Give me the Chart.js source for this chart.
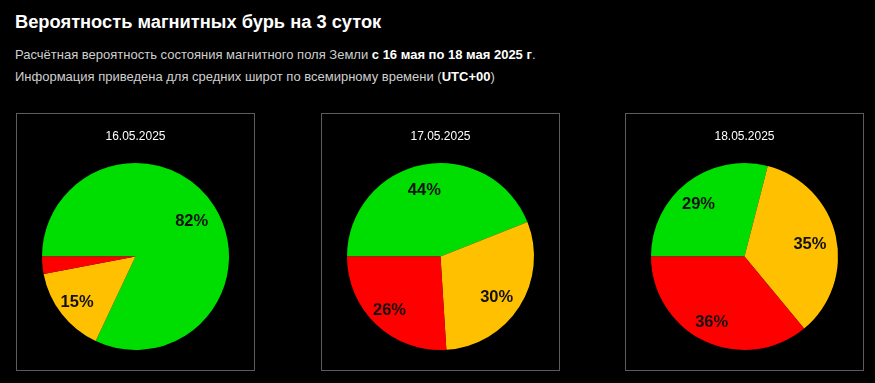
<!DOCTYPE html>
<html><head><meta charset="utf-8">
<script src="https://cdn.jsdelivr.net/npm/chart.js@4"></script>
<style>
html,body{margin:0;padding:0;background:#000;width:875px;height:383px;overflow:hidden;font-family:"Liberation Sans",Arial,sans-serif;}
#title{position:absolute;left:15px;top:11px;color:#fff;font-weight:bold;font-size:18.3px;white-space:nowrap;}
.sub{position:absolute;left:15px;color:#cfcfcf;font-size:13px;white-space:nowrap;}
.sub b{color:#fff;}
.box{position:absolute;top:113px;width:237px;height:256px;border:1px solid #5c5c5c;}
.date{position:absolute;left:0;top:15px;width:100%;text-align:center;color:#fff;font-size:12px;}
canvas{position:absolute;left:0;top:0;}
</style></head>
<body>
<div id="title">Вероятность магнитных бурь на 3 суток</div>
<div class="sub" style="top:47px">Расчётная вероятность состояния магнитного поля Земли <b>с 16 мая по 18 мая 2025 г</b>.</div>
<div class="sub" style="top:69px">Информация приведена для средних широт по всемирному времени (<b>UTC+00</b>)</div>
<div id="boxes"></div>
<script>
const dates = ['16.05.2025', '17.05.2025', '18.05.2025'];
const categories = ['Низкая', 'Средняя', 'Высокая'];
const greenValues = [82, 44, 29];
const yellowValues = [15, 30, 35];
const redValues = [3, 26, 36];
const sliceColors = ['#00dd00', '#ffc000', '#ff0000'];
const boxLefts = [16, 321, 625];

const pctLabels = {
  id: 'pctLabels',
  afterDatasetsDraw(chart) {
    const ctx = chart.ctx;
    const ds = chart.data.datasets[0];
    const meta = chart.getDatasetMeta(0);
    ctx.save();
    ctx.font = 'bold 16.5px "Liberation Sans", Arial, sans-serif';
    ctx.fillStyle = '#111';
    ctx.textAlign = 'center';
    ctx.textBaseline = 'middle';
    meta.data.forEach((arc, i) => {
      const v = ds.data[i];
      if (v < 5) return;
      const p = arc.getProps(['x', 'y', 'startAngle', 'endAngle', 'outerRadius'], true);
      const mid = (p.startAngle + p.endAngle) / 2;
      const r = p.outerRadius * 0.75;
      ctx.fillText(v + '%', p.x + Math.cos(mid) * r - 3, p.y + Math.sin(mid) * r + 3);
    });
    ctx.restore();
  }
};

const container = document.getElementById('boxes');
dates.forEach((d, k) => {
  const box = document.createElement('div');
  box.className = 'box';
  box.style.left = boxLefts[k] + 'px';
  const cv = document.createElement('canvas');
  cv.width = 237; cv.height = 256;
  box.appendChild(cv);
  const lab = document.createElement('div');
  lab.className = 'date';
  lab.textContent = d;
  box.appendChild(lab);
  container.appendChild(box);
  new Chart(cv, {
    type: 'pie',
    data: {
      labels: categories,
      datasets: [{
        data: [greenValues[k], yellowValues[k], redValues[k]],
        backgroundColor: sliceColors,
        borderWidth: 0
      }]
    },
    options: {
      responsive: false,
      animation: false,
      rotation: 270,
      layout: { padding: { left: 25, right: 25, top: 49, bottom: 20 } },
      plugins: { legend: { display: false }, tooltip: { enabled: false }, title: { display: false } }
    },
    plugins: [pctLabels]
  });
});
</script>
</body></html>
